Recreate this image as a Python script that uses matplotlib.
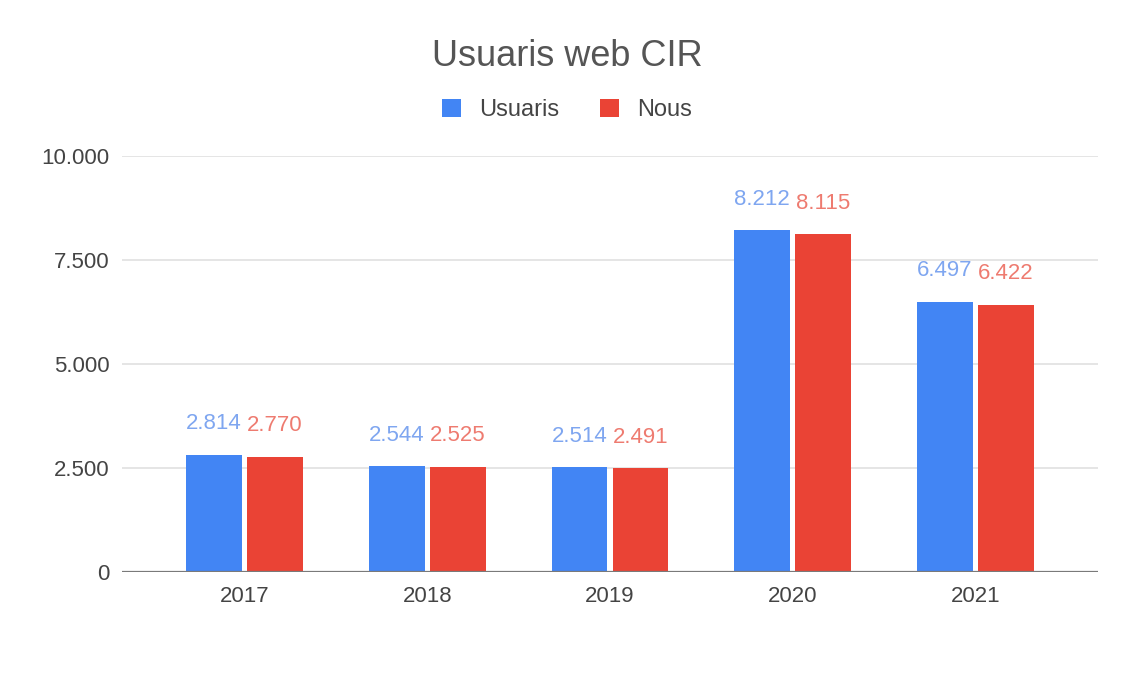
import matplotlib.pyplot as plt
import numpy as np
from matplotlib.ticker import FuncFormatter

plt.rcParams['font.family'] = ['Liberation Sans', 'DejaVu Sans']

# Data
years = ['2017', '2018', '2019', '2020', '2021']
usuaris = [2814, 2544, 2514, 8212, 6497]
nous = [2770, 2525, 2491, 8115, 6422]

blue = '#4285F4'
red = '#EA4335'

def dot_thousands(v, pos=None):
    return f"{int(v):,}".replace(',', '.')

fig = plt.figure(figsize=(11.33, 6.75), dpi=100)
ax = fig.add_axes([122 / 1133, 1 - 572 / 675, (1098 - 122) / 1133, (572 - 156) / 675])

x = np.arange(len(years))
w = 0.305
off = 0.167
b1 = ax.bar(x - off, usuaris, w, color=blue, label='Usuaris', zorder=3)
b2 = ax.bar(x + off, nous, w, color=red, label='Nous', zorder=3)

# value labels above each bar
for bars, col in ((b1, '#7FA6F0'), (b2, '#EE7B70')):
    for r in bars:
        ax.annotate(dot_thousands(r.get_height()), (r.get_x() + r.get_width() / 2, r.get_height()),
                    xytext=(0, 31), textcoords='offset pixels',
                    ha='center', va='center', fontsize=16, color=col)

ax.set_ylim(0, 10000)
ax.set_xlim(-0.67, 4.67)
ax.set_yticks([0, 2500, 5000, 7500, 10000])
ax.yaxis.set_major_formatter(FuncFormatter(dot_thousands))
ax.set_xticks(x)
ax.set_xticklabels(years)
ax.grid(axis='y', color='#E3E3E3', linewidth=1.3, zorder=0)
ax.axhline(0, color='#7A7A7A', linewidth=1.6, zorder=4)
for s in ax.spines.values():
    s.set_visible(False)
ax.tick_params(length=0, labelsize=16, colors='#444444')
ax.tick_params(axis='y', pad=9)
ax.tick_params(axis='x', pad=10)

fig.text(567 / 1133, 1 - 57 / 675, 'Usuaris web CIR', ha='center', va='center', fontsize=26, color='#555555')
fig.legend(handles=[b1, b2], loc='center', bbox_to_anchor=(567 / 1133, 1 - 110 / 675), ncol=2,
           frameon=False, fontsize=17, handlelength=0.8, handleheight=0.8, handletextpad=0.8,
           columnspacing=1.7, labelcolor='#444444')

fig.savefig('out.png', dpi=100)
